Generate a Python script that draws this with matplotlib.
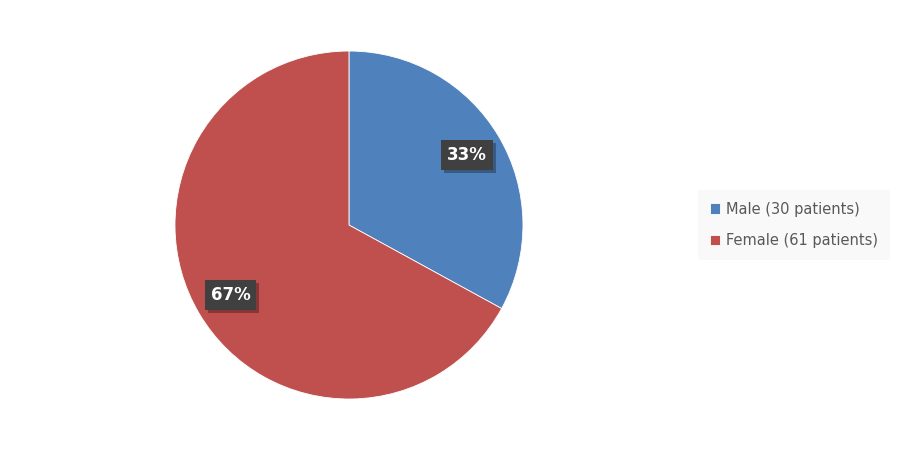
import matplotlib.pyplot as plt
import matplotlib.patheffects as pe

labels = ['Male (30 patients)', 'Female (61 patients)']
counts = [30, 61]
colors = ['#4F81BD', '#C0504D']

fig = plt.figure(figsize=(9, 4.5), dpi=100)
ax = fig.add_axes([0.1944, 0.1133, 0.3867, 0.7733])

wedges, texts, autotexts = ax.pie(
    counts, colors=colors, startangle=90, counterclock=False,
    autopct='%1.0f%%', pctdistance=0.79,
    wedgeprops=dict(edgecolor='white', linewidth=0.6))
ax.set_xlim(-1, 1)
ax.set_ylim(-1, 1)
ax.set_aspect('equal')

for t in autotexts:
    t.set_color('white')
    t.set_fontsize(12)
    t.set_fontweight('bold')
    t.set_bbox(dict(boxstyle='square,pad=0.35', facecolor='#404040', edgecolor='none'))
    t.get_bbox_patch().set_path_effects([
        pe.SimplePatchShadow(offset=(2, -2), shadow_rgbFace='black', alpha=0.3),
        pe.Normal()])

leg = fig.legend(wedges, labels, loc='center left', bbox_to_anchor=(0.768, 0.5),
                 frameon=True, fontsize=10.5, handlelength=0.7, handleheight=0.7,
                 handletextpad=0.4, labelspacing=1.15, borderpad=0.8)
leg.get_frame().set_facecolor('#f8f8f8')
leg.get_frame().set_edgecolor('none')
for txt in leg.get_texts():
    txt.set_color('#595959')

fig.savefig('out.png', dpi=100)
